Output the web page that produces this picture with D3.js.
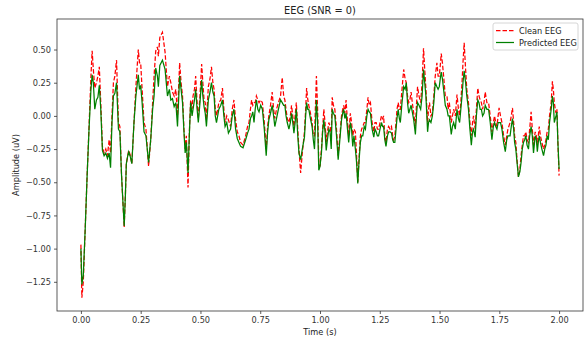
<!DOCTYPE html>
<html>
<head>
<meta charset="utf-8">
<script src="https://cdn.jsdelivr.net/npm/d3@7"></script>
<style>
  body { margin: 0; background: #fff; }
  svg { font-family: "DejaVu Sans", sans-serif; }
</style>
</head>
<body>
<div id="chart"></div>
<script>
// time (s)
const times = [
  0.000, 0.004, 0.010, 0.018, 0.026, 0.034, 0.042, 0.047, 0.052, 0.058, 0.065, 0.071, 0.077, 0.083, 0.090, 0.097,
  0.104, 0.111, 0.118, 0.124, 0.130, 0.136, 0.142, 0.149, 0.157, 0.163, 0.170, 0.181, 0.186, 0.190, 0.196, 0.200,
  0.207, 0.213, 0.222, 0.230, 0.240, 0.245, 0.250, 0.256, 0.264, 0.272, 0.283, 0.292, 0.300, 0.306, 0.313, 0.320,
  0.324, 0.330, 0.341, 0.352, 0.362, 0.370, 0.376, 0.383, 0.390, 0.397, 0.404, 0.413, 0.419, 0.425, 0.431, 0.436,
  0.441, 0.448, 0.454, 0.459, 0.465, 0.469, 0.475, 0.480, 0.486, 0.491, 0.498, 0.505, 0.510, 0.515, 0.520, 0.525,
  0.533, 0.540, 0.546, 0.552, 0.557, 0.562, 0.567, 0.577, 0.585, 0.592, 0.598, 0.603, 0.610, 0.617, 0.626, 0.633,
  0.640, 0.647, 0.654, 0.661, 0.668, 0.678, 0.689, 0.697, 0.703, 0.709, 0.714, 0.719, 0.724, 0.729, 0.734, 0.740,
  0.745, 0.752, 0.759, 0.767, 0.775, 0.781, 0.786, 0.793, 0.800, 0.806, 0.811, 0.818, 0.826, 0.835, 0.842, 0.848,
  0.853, 0.858, 0.863, 0.870, 0.876, 0.881, 0.886, 0.891, 0.896, 0.901, 0.907, 0.912, 0.919, 0.926, 0.935, 0.940,
  0.944, 0.949, 0.953, 0.960, 0.967, 0.972, 0.977, 0.985, 0.990, 0.995, 1.000, 1.006, 1.011, 1.016, 1.021, 1.026,
  1.031, 1.037, 1.042, 1.047, 1.051, 1.056, 1.062, 1.069, 1.076, 1.083, 1.090, 1.095, 1.099, 1.104, 1.109, 1.115,
  1.120, 1.127, 1.132, 1.137, 1.142, 1.148, 1.153, 1.158, 1.164, 1.169, 1.174, 1.179, 1.185, 1.190, 1.196, 1.201,
  1.206, 1.211, 1.218, 1.225, 1.230, 1.235, 1.240, 1.245, 1.251, 1.257, 1.262, 1.266, 1.271, 1.276, 1.282, 1.287,
  1.293, 1.299, 1.304, 1.308, 1.313, 1.318, 1.322, 1.327, 1.332, 1.336, 1.343, 1.350, 1.356, 1.361, 1.366, 1.371,
  1.376, 1.381, 1.386, 1.392, 1.399, 1.404, 1.408, 1.414, 1.421, 1.427, 1.433, 1.438, 1.443, 1.450, 1.454, 1.458,
  1.464, 1.470, 1.476, 1.482, 1.489, 1.494, 1.499, 1.503, 1.507, 1.512, 1.517, 1.524, 1.531, 1.536, 1.541, 1.549,
  1.554, 1.559, 1.566, 1.573, 1.579, 1.584, 1.589, 1.594, 1.598, 1.603, 1.609, 1.614, 1.621, 1.627, 1.633, 1.638,
  1.642, 1.649, 1.654, 1.660, 1.665, 1.670, 1.675, 1.680, 1.686, 1.691, 1.698, 1.705, 1.712, 1.719, 1.725, 1.730,
  1.735, 1.740, 1.745, 1.749, 1.755, 1.761, 1.768, 1.775, 1.781, 1.786, 1.795, 1.800, 1.805, 1.810, 1.814, 1.819,
  1.823, 1.830, 1.836, 1.841, 1.846, 1.851, 1.856, 1.861, 1.866, 1.872, 1.877, 1.883, 1.888, 1.893, 1.900, 1.905,
  1.909, 1.913, 1.917, 1.922, 1.928, 1.935, 1.940, 1.945, 1.950, 1.955, 1.960, 1.967, 1.972, 1.976, 1.980, 1.984,
  1.987, 1.991, 1.995, 2.000
];

const cleanEEG = [
  -0.97, -1.37, -1.25, -0.85, -0.45, -0.08, 0.30, 0.49, 0.35, 0.21, 0.25, 0.30, 0.37, 0.10, -0.23, -0.28,
  -0.25, -0.30, -0.18, -0.28, 0.00, 0.25, 0.30, 0.42, -0.05, -0.08, -0.45, -0.84, -0.60, -0.36, -0.30, -0.26,
  -0.30, -0.36, -0.05, 0.22, 0.50, 0.40, 0.40, 0.20, -0.05, -0.10, -0.38, -0.18, 0.10, 0.30, 0.49, 0.52,
  0.45, 0.59, 0.63, 0.48, 0.22, 0.30, 0.25, 0.18, 0.15, 0.20, 0.00, 0.40, 0.25, 0.15, -0.10, -0.25,
  -0.15, -0.54, -0.10, 0.12, 0.05, 0.15, 0.20, 0.30, 0.10, -0.02, 0.15, 0.39, 0.25, 0.12, 0.10, -0.03,
  0.22, 0.28, 0.37, 0.25, 0.20, 0.05, 0.00, 0.10, 0.12, 0.21, 0.05, -0.05, 0.00, -0.03, -0.08, 0.05,
  0.12, -0.03, -0.12, -0.15, -0.20, -0.22, -0.15, -0.08, -0.05, 0.05, 0.12, 0.08, 0.10, 0.10, 0.15, 0.12,
  0.10, 0.12, 0.10, -0.05, -0.25, -0.08, 0.00, 0.08, 0.18, 0.05, -0.02, 0.05, 0.10, 0.15, 0.29, 0.15,
  0.12, 0.05, -0.02, -0.05, 0.00, 0.08, 0.00, -0.08, 0.00, 0.10, -0.10, -0.25, -0.43, -0.28, -0.12, 0.05,
  0.21, 0.12, 0.08, 0.02, -0.05, -0.15, -0.15, 0.30, 0.05, -0.35, -0.38, -0.25, -0.10, 0.05, -0.05, -0.20,
  -0.12, -0.05, -0.08, -0.15, 0.14, 0.08, 0.05, -0.10, -0.30, -0.15, 0.00, 0.05, 0.08, 0.02, 0.12, -0.05,
  -0.15, 0.02, -0.05, -0.15, -0.10, -0.12, -0.30, -0.50, -0.30, -0.15, -0.10, -0.08, -0.05, -0.05, 0.05, 0.14,
  0.08, 0.10, -0.05, -0.12, -0.05, -0.05, -0.10, -0.10, -0.05, 0.00, -0.02, 0.00, -0.15, -0.20, -0.10, -0.08,
  -0.10, -0.08, -0.15, -0.18, -0.15, -0.05, 0.05, 0.10, 0.05, 0.05, 0.20, 0.35, 0.28, 0.25, 0.15, 0.10,
  0.12, 0.18, 0.10, 0.02, -0.08, 0.10, 0.22, 0.15, 0.10, 0.25, 0.51, 0.35, 0.20, -0.05, 0.05, 0.10,
  0.00, 0.02, 0.15, 0.30, 0.40, 0.30, 0.30, 0.38, 0.47, 0.40, 0.30, 0.15, 0.15, 0.05, 0.10, -0.05,
  0.00, 0.05, 0.00, 0.16, 0.05, 0.00, 0.10, 0.25, 0.40, 0.55, 0.35, 0.20, 0.10, -0.05, -0.15, -0.05,
  0.00, -0.10, 0.05, 0.21, 0.15, 0.12, 0.10, 0.05, 0.10, 0.18, 0.10, 0.10, 0.00, -0.12, -0.05, 0.00,
  -0.05, -0.08, 0.00, 0.06, 0.00, -0.05, -0.15, -0.22, -0.15, -0.10, -0.05, 0.00, 0.06, -0.05, -0.15, -0.20,
  -0.30, -0.46, -0.40, -0.30, -0.22, -0.15, -0.15, -0.12, -0.18, -0.20, -0.10, 0.03, -0.10, -0.22, -0.12, -0.15,
  -0.22, -0.15, -0.08, -0.15, -0.20, -0.25, -0.22, -0.18, -0.12, -0.10, 0.00, 0.10, 0.26, 0.20, 0.10, 0.05,
  0.02, 0.05, -0.20, -0.45
];

const predictedEEG = [
  -1.00, -1.27, -1.20, -0.85, -0.45, -0.10, 0.20, 0.31, 0.25, 0.05, 0.12, 0.14, 0.23, 0.05, -0.26, -0.30,
  -0.28, -0.32, -0.28, -0.39, -0.05, 0.15, 0.17, 0.25, -0.10, -0.12, -0.45, -0.83, -0.60, -0.36, -0.30, -0.27,
  -0.31, -0.36, -0.05, 0.15, 0.31, 0.20, 0.23, 0.10, -0.12, -0.15, -0.35, -0.18, 0.05, 0.15, 0.36, 0.30,
  0.22, 0.38, 0.42, 0.35, 0.15, 0.20, 0.12, 0.13, 0.07, 0.10, -0.08, 0.30, 0.20, 0.10, -0.12, -0.28,
  -0.20, -0.43, -0.12, 0.10, 0.00, 0.05, 0.12, 0.20, 0.05, -0.05, 0.10, 0.27, 0.15, 0.07, 0.02, -0.08,
  0.12, 0.18, 0.25, 0.18, 0.15, 0.00, -0.05, 0.05, 0.08, 0.12, 0.00, -0.08, -0.05, -0.13, -0.10, 0.00,
  0.05, -0.10, -0.17, -0.20, -0.23, -0.24, -0.18, -0.13, -0.10, -0.02, 0.00, 0.03, -0.05, 0.05, 0.12, 0.05,
  0.03, 0.08, 0.05, -0.10, -0.30, -0.12, -0.03, 0.02, 0.08, 0.00, -0.08, -0.02, 0.05, 0.12, 0.10, 0.08,
  0.08, 0.00, -0.05, -0.10, -0.05, 0.02, -0.05, -0.13, -0.05, 0.05, -0.15, -0.28, -0.33, -0.25, -0.16, 0.00,
  0.10, 0.05, 0.05, -0.02, -0.08, -0.18, -0.25, 0.12, -0.05, -0.41, -0.38, -0.28, -0.12, -0.03, -0.12, -0.26,
  -0.18, -0.10, -0.12, -0.25, 0.05, 0.02, 0.00, -0.15, -0.33, -0.18, -0.03, 0.02, 0.05, -0.02, 0.02, -0.10,
  -0.20, -0.05, -0.10, -0.23, -0.15, -0.25, -0.35, -0.51, -0.32, -0.20, -0.15, -0.15, -0.08, -0.10, 0.00, 0.05,
  0.03, 0.02, -0.10, -0.16, -0.10, -0.12, -0.15, -0.15, -0.10, -0.05, -0.08, -0.08, -0.18, -0.23, -0.15, -0.12,
  -0.12, -0.13, -0.18, -0.20, -0.20, -0.10, -0.02, 0.05, -0.02, -0.05, 0.10, 0.22, 0.20, 0.25, 0.10, 0.02,
  0.05, 0.08, 0.03, -0.03, -0.14, 0.02, 0.10, 0.08, 0.05, 0.15, 0.35, 0.25, 0.15, -0.12, -0.05, -0.03,
  -0.05, 0.00, 0.10, 0.25, 0.22, 0.20, 0.22, 0.28, 0.33, 0.28, 0.20, 0.08, 0.05, 0.00, 0.00, -0.14,
  -0.08, -0.05, -0.10, 0.05, -0.02, -0.05, 0.05, 0.15, 0.25, 0.34, 0.25, 0.15, 0.05, -0.10, -0.22, -0.12,
  -0.10, -0.16, 0.00, 0.12, 0.10, 0.05, 0.05, 0.00, 0.02, 0.08, 0.05, 0.05, -0.05, -0.18, -0.08, -0.05,
  -0.08, -0.10, -0.05, -0.05, -0.05, -0.10, -0.20, -0.27, -0.18, -0.15, -0.15, -0.08, -0.02, -0.10, -0.20, -0.25,
  -0.33, -0.46, -0.42, -0.35, -0.25, -0.20, -0.18, -0.15, -0.22, -0.25, -0.15, -0.08, -0.15, -0.28, -0.15, -0.18,
  -0.27, -0.20, -0.15, -0.20, -0.25, -0.30, -0.25, -0.22, -0.15, -0.18, -0.05, 0.05, 0.15, 0.10, -0.05, -0.02,
  0.00, 0.03, -0.20, -0.40
];

const xTicks = [0, 0.25, 0.5, 0.75, 1.0, 1.25, 1.5, 1.75, 2.0];
const yTicks = [-1.25, -1.0, -0.75, -0.5, -0.25, 0, 0.25, 0.5];
const seriesNames = ['Clean EEG', 'Predicted EEG'];

const svgWidth = 587;
const svgHeight = 342;
const margin = { top: 19, right: 4, bottom: 31, left: 57 };
const width = svgWidth - margin.left - margin.right;
const height = svgHeight - margin.top - margin.bottom;

const clean = times.map((t, i) => ({ t, v: cleanEEG[i] }));
const pred = times.map((t, i) => ({ t, v: predictedEEG[i] }));

// matplotlib style 5% margins
const tExt = d3.extent(times);
const vExt = d3.extent(cleanEEG.concat(predictedEEG));
const tPad = (tExt[1] - tExt[0]) * 0.05;
const vPad = (vExt[1] - vExt[0]) * 0.05;

const x = d3.scaleLinear().domain([tExt[0] - tPad, tExt[1] + tPad]).range([0, width]);
const y = d3.scaleLinear().domain([vExt[0] - vPad, vExt[1] + vPad]).range([height, 0]);

const svg = d3.select('#chart')
    .append('svg')
    .attr('width', svgWidth)
    .attr('height', svgHeight);

const g = svg.append('g')
    .attr('transform', `translate(${margin.left}, ${margin.top})`);

const line = d3.line().x(d => x(d.t)).y(d => y(d.v));

g.append('path')
    .datum(clean)
    .attr('fill', 'none')
    .attr('stroke', '#ff0000')
    .attr('stroke-width', 1.25)
    .attr('stroke-dasharray', '4.5,2')
    .attr('d', line);

g.append('path')
    .datum(pred)
    .attr('fill', 'none')
    .attr('stroke', '#008000')
    .attr('stroke-width', 1.25)
    .attr('d', line);

const xAxis = g.append('g')
    .attr('transform', `translate(0, ${height})`)
    .call(d3.axisBottom(x).tickValues(xTicks).tickFormat(d3.format('.2f')).tickSize(3).tickPadding(3));

const yAxis = g.append('g')
    .call(d3.axisLeft(y).tickValues(yTicks).tickFormat(d3.format('.2f')).tickSize(3).tickPadding(3));

[xAxis, yAxis].forEach(a => {
    a.select('.domain').remove();
    a.selectAll('line').attr('stroke', '#333').attr('stroke-width', 0.8);
    a.selectAll('text').attr('fill', '#333').style('font-size', '8.2px').style('font-family', '"DejaVu Sans", sans-serif');
});

// frame
g.append('rect')
    .attr('width', width)
    .attr('height', height)
    .attr('fill', 'none')
    .attr('stroke', '#333')
    .attr('stroke-width', 0.8);

// title and labels
svg.append('text')
    .attr('x', margin.left + width / 2)
    .attr('y', 14)
    .attr('text-anchor', 'middle')
    .style('font-size', '9.8px')
    .attr('fill', '#222')
    .text('EEG (SNR = 0)');

svg.append('text')
    .attr('x', margin.left + width / 2)
    .attr('y', 335)
    .attr('text-anchor', 'middle')
    .style('font-size', '8.2px')
    .attr('fill', '#222')
    .text('Time (s)');

svg.append('text')
    .attr('transform', `translate(19, ${margin.top + height / 2}) rotate(-90)`)
    .attr('text-anchor', 'middle')
    .style('font-size', '8.2px')
    .attr('fill', '#222')
    .text('Amplitude (uV)');

// legend
const legend = svg.append('g').attr('transform', 'translate(493, 23)');
legend.append('rect')
    .attr('width', 85)
    .attr('height', 27)
    .attr('rx', 2)
    .attr('fill', '#fff')
    .attr('fill-opacity', 0.8)
    .attr('stroke', '#ccc')
    .attr('stroke-width', 0.8);

const legendStyles = [
    { color: '#ff0000', dash: '4.5,2' },
    { color: '#008000', dash: null }
];

seriesNames.forEach((name, i) => {
    const row = legend.append('g').attr('transform', `translate(0, ${7.5 + i * 12})`);
    row.append('line')
        .attr('x1', 3).attr('x2', 21)
        .attr('y1', 0).attr('y2', 0)
        .attr('stroke', legendStyles[i].color)
        .attr('stroke-width', 1.25)
        .attr('stroke-dasharray', legendStyles[i].dash);
    row.append('text')
        .attr('x', 26)
        .attr('y', 3)
        .style('font-size', '8.2px')
        .attr('fill', '#222')
        .text(name);
});
</script>
</body>
</html>
